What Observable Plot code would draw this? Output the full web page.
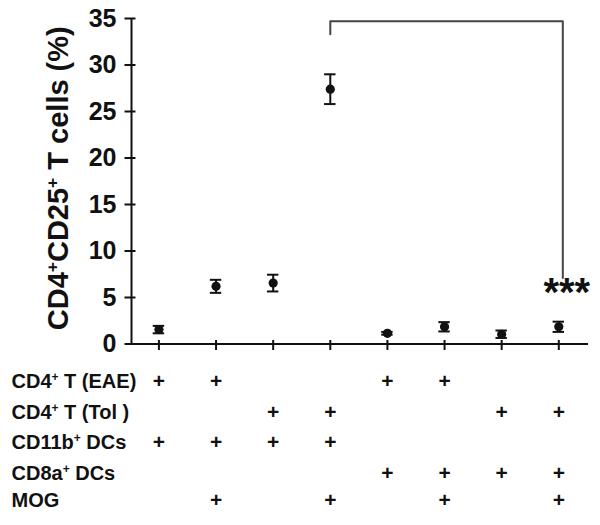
<!DOCTYPE html>
<html>
<head>
<meta charset="utf-8">
<script src="https://cdn.jsdelivr.net/npm/d3@7"></script>
<script src="https://cdn.jsdelivr.net/npm/@observablehq/plot@0.6"></script>
<style>
  html, body { margin: 0; padding: 0; background: #fff; }
</style>
</head>
<body>
<div id="chart"></div>
<script>
// ---- data ----
const groups = [1, 2, 3, 4, 5, 6, 7, 8];
const means  = [1.55, 6.2, 6.55, 27.4, 1.15, 1.85, 1.05, 1.85];
const errors = [0.4, 0.7, 0.9, 1.6, 0.15, 0.5, 0.4, 0.55];
const yTicks = [0, 5, 10, 15, 20, 25, 30, 35];
const yLabel = "CD4⁺CD25⁺ T cells (%)";
const conditions = ["CD4⁺ T (EAE)", "CD4⁺ T (Tol )", "CD11b⁺ DCs", "CD8a⁺ DCs", "MOG"];
const present = [
  [1, 1, 0, 0, 1, 1, 0, 0],
  [0, 0, 1, 1, 0, 0, 1, 1],
  [1, 1, 1, 1, 0, 0, 0, 0],
  [0, 0, 0, 0, 1, 1, 1, 1],
  [0, 1, 0, 1, 0, 1, 0, 1]
];
const bracketFrom = 4, bracketTo = 8.07;
const bracketTop = 34.7, bracketLeftEnd = 33.3, bracketRightEnd = 7.1;
const significance = "***";

// ---- build ----
const data = groups.map((g, i) => ({g, m: means[i], e: errors[i]}));
const bracket = [
  {x: bracketFrom, y: bracketLeftEnd},
  {x: bracketFrom, y: bracketTop},
  {x: bracketTo, y: bracketTop},
  {x: bracketTo, y: bracketRightEnd}
];
const xDomain = [0.52, 8.52];
const rowDy = [44, 75, 105, 136, 162.5];
const ink = "#111";

const tableMarks = [];
conditions.forEach((c, r) => {
  tableMarks.push(Plot.text([c], {
    frameAnchor: "bottom-left", textAnchor: "start", dx: -120, dy: rowDy[r],
    fontSize: 20, fill: ink
  }));
  tableMarks.push(Plot.text(groups.filter((g, i) => present[r][i]), {
    x: d => d, text: () => "+", frameAnchor: "bottom", dy: rowDy[r],
    fontSize: 21, fill: ink
  }));
});

const chart = Plot.plot({
  width: 600,
  height: 525,
  marginTop: 18,
  marginBottom: 181.5,
  marginLeft: 131,
  marginRight: 12,
  style: {fontFamily: "'Liberation Sans', Arial, sans-serif", fontWeight: "bold", fontSize: "25px", color: ink},
  x: {domain: xDomain, axis: null},
  y: {domain: [0, 35], axis: null},
  marks: [
    Plot.axisY({ticks: yTicks, tickSize: 11, dx: 4.5, tickPadding: 8.5, strokeWidth: 2, label: null, fontSize: 25}),
    Plot.axisX({ticks: groups, tickSize: 10, dy: -3.5, tickFormat: () => "", strokeWidth: 2, label: null}),
    Plot.ruleX([xDomain[0]], {y1: 0, y2: 35, stroke: ink, strokeWidth: 2}),
    Plot.ruleY([0], {stroke: ink, strokeWidth: 2}),
    Plot.ruleX(data, {x: "g", y1: d => d.m - d.e, y2: d => d.m + d.e, stroke: ink, strokeWidth: 2}),
    Plot.ruleY(data, {y: d => d.m + d.e, x1: d => d.g - 0.1, x2: d => d.g + 0.1, stroke: ink, strokeWidth: 2}),
    Plot.ruleY(data, {y: d => d.m - d.e, x1: d => d.g - 0.1, x2: d => d.g + 0.1, stroke: ink, strokeWidth: 2}),
    Plot.dot(data, {x: "g", y: "m", r: 4.6, fill: ink, stroke: "none"}),
    Plot.line(bracket, {x: "x", y: "y", stroke: "#444", strokeWidth: 2}),
    Plot.text([significance], {x: () => bracketTo, y: () => bracketRightEnd, dx: 4, lineAnchor: "top", fontSize: 40, fill: ink}),
    Plot.text([yLabel], {frameAnchor: "left", textAnchor: "middle", rotate: -90, dx: -73, dy: -3, fontSize: 29, fill: ink}),
    ...tableMarks
  ]
});

// render the "⁺" characters as small raised plus signs
const svgns = "http://www.w3.org/2000/svg";
chart.querySelectorAll("text").forEach(t => {
  const s = t.textContent;
  if (!s.includes("⁺")) return;
  const parts = s.split("⁺");
  while (t.firstChild) t.removeChild(t.firstChild);
  parts.forEach((p, i) => {
    if (p) t.appendChild(document.createTextNode(p));
    if (i < parts.length - 1) {
      const ts = document.createElementNS(svgns, "tspan");
      ts.setAttribute("baseline-shift", "super");
      ts.setAttribute("font-size", "0.6em");
      ts.textContent = "+";
      t.appendChild(ts);
    }
  });
});

document.getElementById("chart").appendChild(chart);
</script>
</body>
</html>
